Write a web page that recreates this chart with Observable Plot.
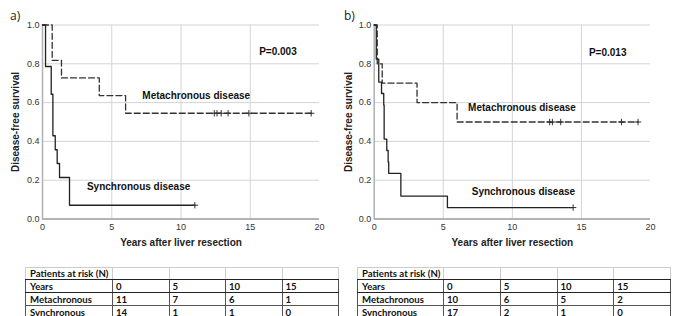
<!DOCTYPE html>
<html>
<head>
<meta charset="utf-8">
<script src="https://cdn.jsdelivr.net/npm/d3@7"></script>
<script src="https://cdn.jsdelivr.net/npm/@observablehq/plot@0.6"></script>
<style>
  html, body { margin: 0; padding: 0; background: #fff; }
  #wrap { position: relative; width: 674px; height: 316px; overflow: hidden; }
  .panel { position: absolute; top: 0; }
  .plab { position: absolute; font-family: "Open Sans", sans-serif; font-size: 12px; color: #222; }
  table.risk { position: absolute; border-collapse: collapse; table-layout: fixed;
    font-family: Lato, "Liberation Sans", sans-serif; font-weight: 700; font-size: 9.6px; color: #111; }
  table.risk td { padding: 0 0 0 3px; height: 12px; line-height: 11px; border: 1px solid #555; white-space: nowrap; overflow: visible; }
  table.risk tr.hdr td { border: 1px solid #ccc; border-bottom: 1.5px solid #222; height: 10.5px; }
  table.risk tr.yrs td { border-top: 1.5px solid #222; border-bottom: 1.5px solid #222; }
  table.risk td.first { padding-left: 4px; }
</style>
</head>
<body>
<div id="wrap"></div>
<script>
// ---------- data ----------
const yearsAtRisk = [0, 5, 10, 15];

// Panel a
const aMetaTime = [0, 0.7, 1.37, 4.1, 6.0, 19.4];
const aMetaSurv = [1, 0.818, 0.727, 0.636, 0.545, 0.545];
const aMetaCensor = [12.4, 12.6, 12.9, 13.4, 14.9, 19.4];
const aSyncTime = [0, 0.22, 0.63, 0.75, 0.92, 1.06, 1.23, 1.95, 11.0];
const aSyncSurv = [1, 0.786, 0.643, 0.429, 0.357, 0.286, 0.214, 0.071, 0.071];
const aSyncCensor = [11.0];
const aRiskMeta = [11, 7, 6, 1];
const aRiskSync = [14, 1, 1, 0];
const aPValue = "P=0.003";

// Panel b
const bMetaTime = [0, 0.22, 0.58, 3.1, 6.0, 19.1];
const bMetaSurv = [1, 0.8, 0.7, 0.6, 0.5, 0.5];
const bMetaCensor = [12.7, 12.9, 13.5, 17.9, 19.1];
const bSyncTime = [0, 0.15, 0.33, 0.53, 0.69, 0.72, 0.91, 1.01, 1.05, 1.93, 5.3, 14.4];
const bSyncSurv = [1, 0.824, 0.706, 0.647, 0.588, 0.412, 0.353, 0.294, 0.235, 0.118, 0.059, 0.059];
const bSyncCensor = [14.4];
const bRiskMeta = [10, 6, 5, 2];
const bRiskSync = [17, 2, 1, 0];
const bPValue = "P=0.013";

const xTicks = [0, 5, 10, 15, 20];
const yTicks = [0, 0.2, 0.4, 0.6, 0.8, 1.0];
const xTitle = "Years after liver resection";
const yTitle = "Disease-free survival";
const metaLabel = "Metachronous disease";
const syncLabel = "Synchronous disease";

// ---------- helpers ----------
function series(times, survs) { return times.map((t, i) => ({t, s: survs[i]})); }
function censorPts(times, survs, cens) {
  return cens.map(c => {
    const i = Math.max(0, d3.bisectRight(times, c) - 1);
    return {t: c, s: survs[i]};
  });
}

function makePlot(cfg) {
  const meta = series(cfg.metaTime, cfg.metaSurv);
  const sync = series(cfg.syncTime, cfg.syncSurv);
  const metaC = censorPts(cfg.metaTime, cfg.metaSurv, cfg.metaCensor);
  const syncC = censorPts(cfg.syncTime, cfg.syncSurv, cfg.syncCensor);
  return Plot.plot({
    width: 337, height: 255,
    marginLeft: cfg.ml, marginRight: cfg.mr, marginTop: 24.5, marginBottom: 36.5,
    style: {fontFamily: "'Liberation Sans', Arial, sans-serif", fontSize: "9px", color: "#333", background: "transparent"},
    x: {domain: [0, 20]},
    y: {domain: [0, 1]},
    marks: [
      Plot.gridX([5, 10, 15], {stroke: "#d4d4d4", strokeOpacity: 1}),
      Plot.gridY([0.2, 0.4, 0.6, 0.8, 1.0], {stroke: "#d4d4d4", strokeOpacity: 1}),
      Plot.ruleX([0], {stroke: "#b0b0b0", strokeWidth: 1.5}),
      Plot.ruleY([0], {stroke: "#9a9a9a", strokeWidth: 1.5}),
      Plot.axisX({ticks: xTicks, tickSize: 0, tickPadding: 5, label: null, tickFormat: d3.format("d")}),
      Plot.axisY({ticks: yTicks, tickSize: 0, tickPadding: 3, label: null, tickFormat: d3.format(".1f")}),
      Plot.text([xTitle], {frameAnchor: "bottom", dy: 26.5, textAnchor: "middle", fontWeight: "bold", fontSize: 10, fill: "#222"}),
      Plot.text([yTitle], {frameAnchor: "left", dx: -cfg.yOff, rotate: -90, textAnchor: "middle", fontWeight: "bold", fontSize: 10, fill: "#222"}),
      Plot.line(meta, {x: "t", y: "s", curve: "step-after", stroke: "#333", strokeWidth: 1.3, strokeDasharray: "6,3"}),
      Plot.line(sync, {x: "t", y: "s", curve: "step-after", stroke: "#222", strokeWidth: 1.3}),
      Plot.dot(metaC, {x: "t", y: "s", symbol: "plus", r: 2.2, stroke: "#333", strokeWidth: 1}),
      Plot.dot(syncC, {x: "t", y: "s", symbol: "plus", r: 2.2, stroke: "#333", strokeWidth: 1}),
      Plot.text([cfg.p], {x: cfg.pPos[0], y: cfg.pPos[1], fontWeight: "bold", fontSize: 10, fill: "#111"}),
      Plot.text([metaLabel], {x: cfg.metaPos[0], y: cfg.metaPos[1], fontWeight: "bold", fontSize: 10, fill: "#111"}),
      Plot.text([syncLabel], {x: cfg.syncPos[0], y: cfg.syncPos[1], fontWeight: "bold", fontSize: 10, fill: "#111"})
    ]
  });
}

function makeTable(meta, sync, left, width, col1) {
  const t = document.createElement("table");
  t.className = "risk";
  t.style.left = left + "px";
  t.style.top = "267px";
  t.style.width = width + "px";
  const other = (width - col1) / 4;
  const cg = document.createElement("colgroup");
  [col1, other, other, other, other].forEach(w => { const c = document.createElement("col"); c.style.width = w + "px"; cg.appendChild(c); });
  t.appendChild(cg);
  const rows = [
    ["hdr", ["Patients at risk (N)", "", "", "", ""]],
    ["yrs", ["Years", ...yearsAtRisk.map(String)]],
    ["", ["Metachronous", ...meta.map(String)]],
    ["", ["Synchronous", ...sync.map(String)]]
  ];
  rows.forEach(([cls, cells]) => {
    const tr = document.createElement("tr");
    if (cls) tr.className = cls;
    cells.forEach((c, i) => { const td = document.createElement("td"); td.textContent = c; if (i === 0) td.className = "first"; tr.appendChild(td); });
    t.appendChild(tr);
  });
  return t;
}

const wrap = document.getElementById("wrap");

const pa = makePlot({
  metaTime: aMetaTime, metaSurv: aMetaSurv, metaCensor: aMetaCensor,
  syncTime: aSyncTime, syncSurv: aSyncSurv, syncCensor: aSyncCensor,
  ml: 42, mr: 18, yOff: 27, p: aPValue,
  pPos: [17.0, 0.86], metaPos: [11.1, 0.633], syncPos: [6.94, 0.167]
});
const da = document.createElement("div"); da.className = "panel"; da.style.left = "0px"; da.appendChild(pa); wrap.appendChild(da);

const pb = makePlot({
  metaTime: bMetaTime, metaSurv: bMetaSurv, metaCensor: bMetaCensor,
  syncTime: bSyncTime, syncSurv: bSyncSurv, syncCensor: bSyncCensor,
  ml: 36.7, mr: 24, yOff: 25, p: bPValue,
  pPos: [16.9, 0.855], metaPos: [10.7, 0.573], syncPos: [10.8, 0.142]
});
const db = document.createElement("div"); db.className = "panel"; db.style.left = "337px"; db.appendChild(pb); wrap.appendChild(db);

const la = document.createElement("div"); la.className = "plab"; la.textContent = "a)"; la.style.left = "10px"; la.style.top = "7px"; wrap.appendChild(la);
const lb = document.createElement("div"); lb.className = "plab"; lb.textContent = "b)"; lb.style.left = "344px"; lb.style.top = "7px"; wrap.appendChild(lb);

wrap.appendChild(makeTable(aRiskMeta, aRiskSync, 25, 313, 87));
wrap.appendChild(makeTable(bRiskMeta, bRiskSync, 357, 313, 86));
</script>
</body>
</html>
